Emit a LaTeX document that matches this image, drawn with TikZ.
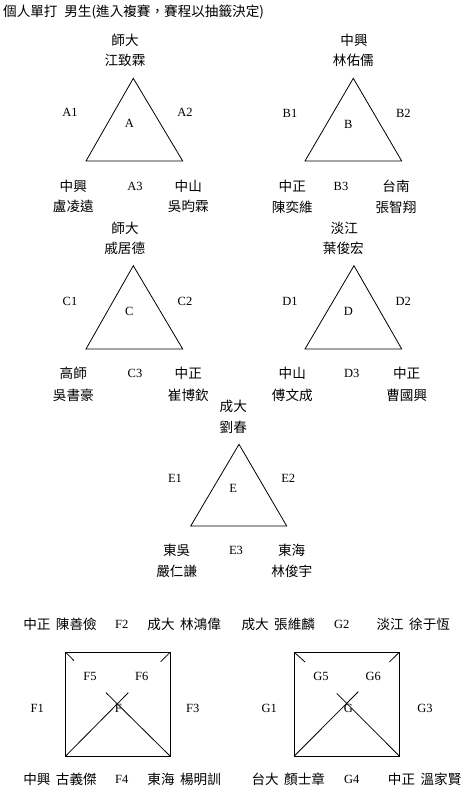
\documentclass[tikz,border=0pt]{standalone}
\usepackage{fontspec}
\setmainfont{Liberation Serif}
\newfontfamily\cjk{Noto Sans CJK TC}
\begin{document}
\begin{tikzpicture}[x=1pt,y=-1pt,
  lat/.style={font=\fontsize{12.5}{14}\selectfont, inner sep=0pt},
  zh/.style={font=\cjk\fontsize{13.6}{15}\selectfont, inner sep=0pt},
  edge/.style={draw=black, line width=0.8pt}]
\useasboundingbox[fill=white] (0,0) rectangle (469,790);
\node[zh, anchor=west] (title) at (3,12) {個人單打\hspace{0.5em}男生(進入複賽，賽程以抽籤決定)};

% Triangle A
\coordinate (Aa) at (133.3,78.3);
\coordinate (Al) at (86,161);
\coordinate (Ar) at (182.7,161);
\draw[edge] (Aa) -- (Al) -- (Ar) -- cycle;
\node[zh] (At1) at (125,40) {師大};
\node[zh] (At2) at (125,60) {江致霖};
\node[lat] (A1) at (70,112.3) {A1};
\node[lat] (A2) at (185,112.3) {A2};
\node[lat] (A) at (129.3,123.3) {A};
\node[zh] (Al1) at (73.3,186) {中興};
\node[lat] (A3) at (135,186) {A3};
\node[zh] (Ar1) at (188.3,186) {中山};
\node[zh] (Al2) at (73.3,206.7) {盧凌遠};
\node[zh] (Ar2) at (188.3,206.7) {吳昀霖};

% Triangle B
\coordinate (Ba) at (353.3,78.3);
\coordinate (Bl) at (305,161);
\coordinate (Br) at (401.7,161);
\draw[edge] (Ba) -- (Bl) -- (Br) -- cycle;
\node[zh] (Bt1) at (354,40) {中興};
\node[zh] (Bt2) at (353.3,60) {林佑儒};
\node[lat] (B1) at (290,113.3) {B1};
\node[lat] (B2) at (403.3,113.3) {B2};
\node[lat] (B) at (348.3,124) {B};
\node[zh] (Bl1) at (292.3,186) {中正};
\node[lat] (B3) at (341,186) {B3};
\node[zh] (Br1) at (396,186) {台南};
\node[zh] (Bl2) at (292.3,207) {陳奕維};
\node[zh] (Br2) at (396,207) {張智翔};

% Triangle C
\coordinate (Ca) at (133.3,265.7);
\coordinate (Cl) at (86,349);
\coordinate (Cr) at (182.7,349);
\draw[edge] (Ca) -- (Cl) -- (Cr) -- cycle;
\node[zh] (Ct1) at (125,228.3) {師大};
\node[zh] (Ct2) at (124.7,248.3) {戚居德};
\node[lat] (C1) at (70,301) {C1};
\node[lat] (C2) at (185,301) {C2};
\node[lat] (C) at (129.3,311.7) {C};
\node[zh] (Cl1) at (73.3,373.3) {高師};
\node[lat] (C3) at (135,373.3) {C3};
\node[zh] (Cr1) at (188.3,373.3) {中正};
\node[zh] (Cl2) at (73.3,395) {吳書豪};
\node[zh] (Cr2) at (188.3,395) {崔博欽};

% Triangle D
\coordinate (Da) at (354,265.7);
\coordinate (Dl) at (305,349);
\coordinate (Dr) at (401.7,349);
\draw[edge] (Da) -- (Dl) -- (Dr) -- cycle;
\node[zh] (Dt1) at (344.3,228.3) {淡江};
\node[zh] (Dt2) at (343.3,248.3) {葉俊宏};
\node[lat] (D1) at (290,301) {D1};
\node[lat] (D2) at (403.3,301) {D2};
\node[lat] (D) at (348.3,311.7) {D};
\node[zh] (Dl1) at (292.3,373.3) {中山};
\node[lat] (D3) at (351.7,373.3) {D3};
\node[zh] (Dr1) at (406.7,373.3) {中正};
\node[zh] (Dl2) at (292.3,395) {傅文成};
\node[zh] (Dr2) at (406.7,395) {曹國興};

% Triangle E
\coordinate (Ea) at (239,444.3);
\coordinate (El) at (190.7,526);
\coordinate (Er) at (286.7,526);
\draw[edge] (Ea) -- (El) -- (Er) -- cycle;
\node[zh] (Et1) at (233.3,406.7) {成大};
\node[zh] (Et2) at (233.3,427.3) {劉春};
\node[lat] (E1) at (175,478.3) {E1};
\node[lat] (E2) at (288.3,478.3) {E2};
\node[lat] (E) at (233.3,488.3) {E};
\node[zh] (El1) at (176.7,550) {東吳};
\node[lat] (E3) at (236,550) {E3};
\node[zh] (Er1) at (291.7,550) {東海};
\node[zh] (El2) at (176.7,571.7) {嚴仁謙};
\node[zh] (Er2) at (291.7,571.7) {林俊宇};

% Square F
\coordinate (Ftl) at (65.7,652.3);
\coordinate (Ftr) at (170,652.3);
\coordinate (Fbl) at (65.7,756);
\coordinate (Fbr) at (170,756);
\coordinate (Fs1) at (74,660.7);
\coordinate (Fs2) at (160.7,661.7);
\coordinate (Fd1) at (128.3,692.7);
\coordinate (Fd2) at (106,692.7);
\draw[edge] (Ftl) -- (Ftr) -- (Fbr) -- (Fbl) -- cycle;
\draw[edge] (Ftl) -- (Fs1);
\draw[edge] (Ftr) -- (Fs2);
\draw[edge] (Fbl) -- (Fd1);
\draw[edge] (Fbr) -- (Fd2);
\node[zh] (Ftop1) at (60,624) {中正\hspace{0.4em}陳善儉};
\node[lat] (F2) at (121.7,624) {F2};
\node[zh] (Ftop2) at (184.2,624) {成大\hspace{0.4em}林鴻偉};
\node[lat] (F5) at (90,676) {F5};
\node[lat] (F6) at (141.7,676) {F6};
\node[lat] (F1) at (37.3,708.3) {F1};
\node[lat] (F) at (118.3,708.3) {F};
\node[lat] (F3) at (192.7,708.3) {F3};
\node[zh] (Fbot1) at (60,779) {中興\hspace{0.4em}古義傑};
\node[lat] (F4) at (121.7,779) {F4};
\node[zh] (Fbot2) at (184.2,779) {東海\hspace{0.4em}楊明訓};

% Square G
\coordinate (Gtl) at (294.3,652.3);
\coordinate (Gtr) at (399.3,652.3);
\coordinate (Gbl) at (294.3,756);
\coordinate (Gbr) at (399.3,756);
\coordinate (Gs1) at (305,662);
\coordinate (Gs2) at (389.3,662);
\coordinate (Gd1) at (358.3,691.7);
\coordinate (Gd2) at (336.7,693.3);
\draw[edge] (Gtl) -- (Gtr) -- (Gbr) -- (Gbl) -- cycle;
\draw[edge] (Gtl) -- (Gs1);
\draw[edge] (Gtr) -- (Gs2);
\draw[edge] (Gbl) -- (Gd1);
\draw[edge] (Gbr) -- (Gd2);
\node[zh] (Gtop1) at (278.3,624) {成大\hspace{0.4em}張維麟};
\node[lat] (G2) at (341.7,624) {G2};
\node[zh] (Gtop2) at (413.3,624) {淡江\hspace{0.4em}徐于恆};
\node[lat] (G5) at (321,676) {G5};
\node[lat] (G6) at (373.3,676) {G6};
\node[lat] (G1) at (269.3,708.3) {G1};
\node[lat] (G) at (348.3,708.3) {G};
\node[lat] (G3) at (425,708.3) {G3};
\node[zh] (Gbot1) at (288.3,779) {台大\hspace{0.4em}顏士章};
\node[lat] (G4) at (351.7,779) {G4};
\node[zh] (Gbot2) at (424.7,779) {中正\hspace{0.4em}溫家賢};
\end{tikzpicture}
\end{document}
